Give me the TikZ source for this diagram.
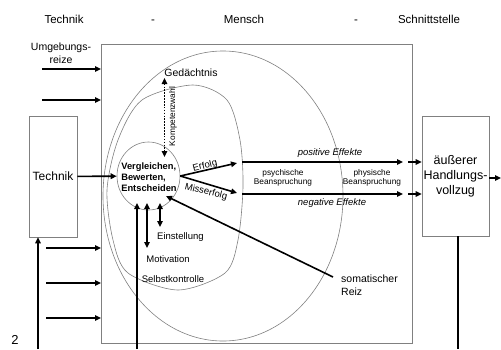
\documentclass[tikz,border=0pt]{standalone}
\usepackage{fontspec}
\setmainfont{Liberation Sans}
\usetikzlibrary{arrows.meta, positioning, shapes.geometric}

\begin{document}
\begin{tikzpicture}[
x={(1pt,0pt)}, y={(0pt,-1pt)},
% #region Picture settings %
pf/.style={-{Triangle[length=6pt, width=5.5pt]}, line width=1.6pt},
dpf/.style={{Triangle[length=6pt, width=5.5pt]}-{Triangle[length=6pt, width=5.5pt]}, line width=1.6pt},
rand/.style={draw=black!50, line width=0.6pt},
kopf/.style={inner sep=0pt, anchor=base, font=\fontsize{11.5}{14}\selectfont},
txt/.style={inner sep=0pt, font=\fontsize{9.5}{11}\selectfont},
gross/.style={inner sep=0pt, font=\fontsize{10.5}{13}\selectfont},
klein/.style={inner sep=0pt, align=center, font=\fontsize{8.3}{9.3}\selectfont},
effekt/.style={inner sep=0pt, font=\fontsize{9.5}{11}\selectfont\itshape},
% #endregion Picture settings %
]

\useasboundingbox (0,0) rectangle (501,349);

% Kopfzeile
\node[kopf] (kTechnik) at (64,23) {Technik};
\node[kopf] (kStrich1) at (153,23) {-};
\node[kopf] (kMensch) at (244,23) {Mensch};
\node[kopf] (kStrich2) at (356,23) {-};
\node[kopf] (kSchnitt) at (429,23) {Schnittstelle};

% Kaesten
\node[rand, minimum width=311, minimum height=299, anchor=north west] (mensch) at (101,44) {};
\node[rand, minimum width=48, minimum height=121, inner sep=0pt, font=\fontsize{12}{14}\selectfont] (technik) at (53,176.5) {Technik};
\node[rand, minimum width=67, minimum height=120, inner sep=0pt, align=center, font=\fontsize{12.5}{15}\selectfont] (handlung) at (455.5,176) {äußerer\\Handlungs-\\vollzug};

% Ellipsen
\draw[rand] (223,196) ellipse [x radius=120, y radius=145];
\draw[rand] plot[smooth cycle] coordinates {(193,85) (227,100) (240,140) (243,187) (238,240) (225,273) (178,290) (128,273) (113,240) (107,190) (118,140) (142,100)};
\node[rand, ellipse, minimum width=63, minimum height=68, inner sep=0pt] (kreis) at (148.5,176) {};
\node[inner sep=0pt, align=left, font=\bfseries\fontsize{9.3}{11}\selectfont] (vbe) at (149,177) {Vergleichen,\\Bewerten,\\Entscheiden};

% Beschriftungen
\node[gross, align=center] (umgebung) at (61,53.5) {Umgebungs-\\reize};
\node[gross] (gedaechtnis) at (191,73) {Gedächtnis};
\node[klein, rotate=90] (kompetenz) at (173,116.5) {Kompetenzwahl};
\node[txt, rotate=14] (erfolg) at (205,166) {Erfolg};
\node[txt, rotate=-14] (misserfolg) at (206,192) {Misserfolg};
\node[effekt] (positiv) at (330,153) {positive Effekte};
\node[effekt] (negativ) at (332,203) {negative Effekte};
\node[klein] (psychisch) at (283,177.5) {psychische\\Beanspruchung};
\node[klein] (physisch) at (372,177.5) {physische\\Beanspruchung};
\node[txt, anchor=west] (einstellung) at (157,237) {Einstellung};
\node[txt] (motivation) at (168,259) {Motivation};
\node[txt] (selbst) at (173,279) {Selbstkontrolle};
\node[gross, align=left, anchor=west] (soma) at (341,285.5) {somatischer\\Reiz};
\node[inner sep=0pt, font=\fontsize{13}{15}\selectfont] (zwei) at (15,340) {2};

% Umgebungsreize
\coordinate (u1) at (42,69);
\coordinate (u2) at (42,100);
\coordinate (u3) at (46,248);
\coordinate (u4) at (46,283);
\coordinate (u5) at (46,318);
\draw[pf] (u1) -- (u1 -| mensch.west);
\draw[pf] (u2) -- (u2 -| mensch.west);
\draw[pf] (u3) -- (u3 -| mensch.west);
\draw[pf] (u4) -- (u4 -| mensch.west);
\draw[pf] (u5) -- (u5 -| mensch.west);

% Technik
\coordinate (tUnten) at (38,349);
\draw[pf] (tUnten) -- (tUnten |- technik.south);
\draw[pf] (technik) -- (kreis);

% Kompetenzwahl
\coordinate (kw1) at (164.5,78);
\coordinate (kw2) at (164.5,157);
\draw[dpf, dash pattern=on 1.6pt off 1.3pt] (kw1) -- (kw2);

% Erfolg / Misserfolg
\coordinate (eEnde) at (237,163);
\coordinate (mEnde) at (237,193);
\draw[pf] (kreis.east) -- (eEnde);
\draw[pf] (kreis.east) -- (mEnde);

\coordinate (p1) at (242,162);
\coordinate (p2) at (403,162);
\coordinate (p3) at (408,162);
\draw[pf] (p1) -- (p2);
\draw[pf] (p3) -- (p3 -| handlung.west);

\coordinate (n1) at (242,194);
\coordinate (n2) at (403,194);
\coordinate (n3) at (408,194);
\draw[pf] (n1) -- (n2);
\draw[pf] (n3) -- (n3 -| handlung.west);

% Handlungsvollzug
\coordinate (aus) at (501,178);
\coordinate (hUnten) at (458,349);
\draw[pf] (handlung.east |- aus) -- (aus);
\draw[line width=1.6pt] (handlung.south -| hUnten) -- (hUnten);

% Einstellung, Motivation
\coordinate (a1) at (137,349);
\coordinate (a2) at (137,203);
\coordinate (b1) at (147,248);
\coordinate (b2) at (147,203);
\coordinate (c1) at (160,227);
\coordinate (c2) at (160,203);
\draw[pf] (a1) -- (a2);
\draw[dpf] (b1) -- (b2);
\draw[dpf] (c1) -- (c2);

% somatischer Reiz
\coordinate (s1) at (333,277);
\coordinate (s2) at (166,196);
\draw[pf] (s1) -- (s2);

\end{tikzpicture}
\end{document}
